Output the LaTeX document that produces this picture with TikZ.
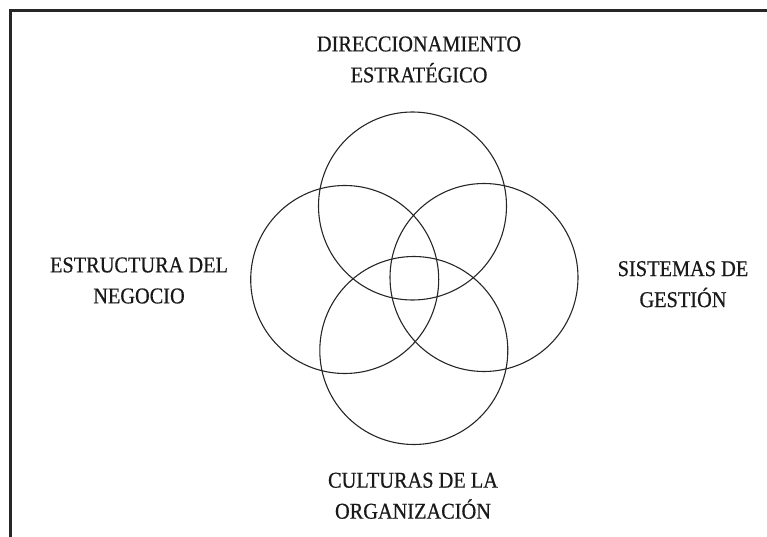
\documentclass[tikz,border=0pt]{standalone}
\usepackage{fontspec}
\setmainfont{Liberation Serif}[FakeStretch=0.9,FakeBold=0.6]
\usetikzlibrary{positioning}

\begin{document}
\begin{tikzpicture}[x=1pt,y=-1pt,
    ring/.style={circle,draw=black!85,line width=1.1pt,minimum size=188pt,inner sep=0pt},
    tag/.style={align=center,inner sep=0pt,text=black!90,font=\fontsize{22.6}{31}\selectfont}]
    \useasboundingbox (0,0) rectangle (767,537);
    % frame, open at right and bottom
    \draw[line width=3pt,black!85] (10.5,537) -- (10.5,10.8) -- (767,10.8);

    \node[ring] (dir) at (412.5,206) {};
    \node[ring] (est) at (344.7,279.5) {};
    \node[ring] (sis) at (484,277.5) {};
    \node[ring] (cul) at (413.8,350.5) {};

    \node[tag] (tdir) at (419,59.5) {DIRECCIONAMIENTO\\ESTRATÉGICO};
    \node[tag] (test) at (139,280.5) {ESTRUCTURA DEL\\NEGOCIO};
    \node[tag] (tsis) at (683,284.2) {SISTEMAS DE\\GESTIÓN};
    \node[tag] (tcul) at (413,495.8) {CULTURAS DE LA\\ORGANIZACIÓN};
\end{tikzpicture}
\end{document}
